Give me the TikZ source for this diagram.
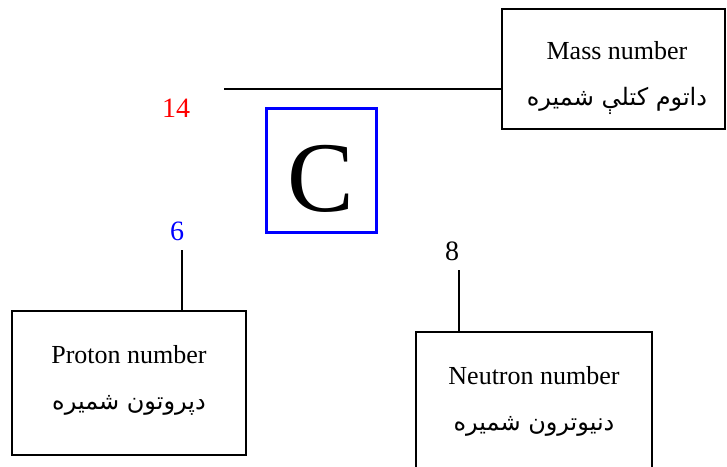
\documentclass[tikz,border=0pt]{standalone}
\usepackage{fontspec}
\setmainfont{Liberation Serif}
\newfontfamily\pashtofont[Script=Arabic]{DejaVu Sans}
\TeXXeTstate=1
\usepackage{xcolor}
\usetikzlibrary{positioning}
\definecolor{isoRed}{HTML}{FF0000}
\definecolor{isoBlue}{HTML}{0000FF}
\newcommand{\ps}[1]{{\pashtofont\fontsize{24}{28}\selectfont\beginR #1\endR}}

\tikzset{
  infobox/.style={draw, line width=1.8pt, inner sep=0pt},
  boxtext/.style={align=center, inner sep=0pt, font=\fontsize{26}{31}\selectfont},
  numlabel/.style={inner sep=0pt, font=\fontsize{28}{30}\selectfont},
  wire/.style={line width=1.5pt},
}

\begin{document}
\begin{tikzpicture}[x=1pt,y=-1pt]
  \useasboundingbox (0,0) rectangle (727,466);

  % element symbol
  \node[draw=isoBlue, line width=3pt, minimum width=110, minimum height=124,
    inner sep=0pt, text height=82pt, text depth=0pt,
    font=\fontsize{100}{104}\selectfont] (elem) at (321,170) {C};

  % numbers
  \node[numlabel, text=isoRed] (massnum) at (176,108) {14};
  \node[numlabel, text=isoBlue] (protnum) at (177,231) {6};
  \node[numlabel] (neutnum) at (452,251) {8};

  % boxes
  \node[infobox, minimum width=223, minimum height=120] (massbox) at (613.5,69) {};
  \node[infobox, minimum width=234, minimum height=144] (protbox) at (129,383) {};
  \node[infobox, minimum width=236, minimum height=160, anchor=north] (neutbox) at (534,331) {};

  % box texts
  \node[boxtext] (masstext) at (617,78)
    {Mass number\\[15pt]\ps{داتوم کتلې شمیره}};
  \node[boxtext] (prottext) at (129,380)
    {Proton number\\[15pt]\ps{دپروتون شمیره}};
  \node[boxtext] (neuttext) at (534,401)
    {Neutron number\\[15pt]\ps{دنیوترون شمیره}};

  % connectors
  \coordinate (massend) at (224,89);
  \coordinate (prottop) at (182,250);
  \coordinate (neuttop) at (459,270);
  \draw[wire] (massend) -- (massend -| massbox.west);
  \draw[wire] (prottop) -- (prottop |- protbox.north);
  \draw[wire] (neuttop) -- (neuttop |- neutbox.north);
\end{tikzpicture}
\end{document}
